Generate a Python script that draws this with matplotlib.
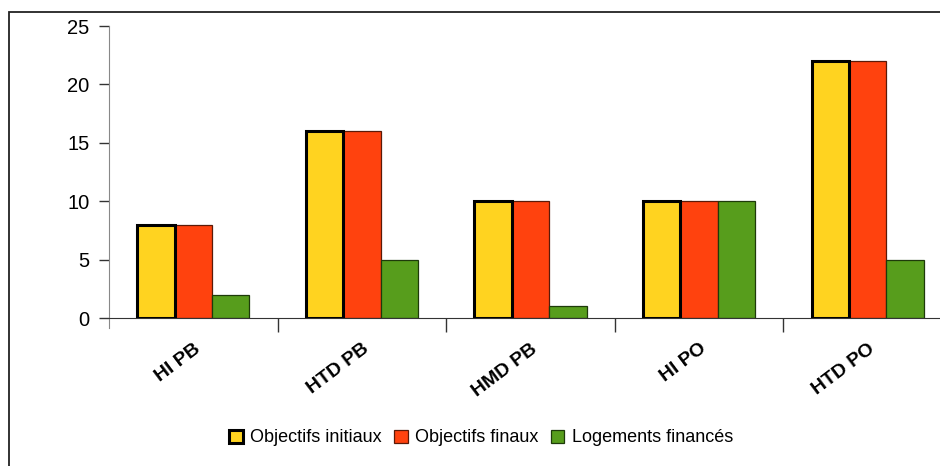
import numpy as np
import matplotlib
matplotlib.use("Agg")
import matplotlib.pyplot as plt
from matplotlib.patches import Rectangle

# data
categories = ["HI PB", "HTD PB", "HMD PB", "HI PO", "HTD PO"]
objectifs_initiaux = [8, 16, 10, 10, 22]
objectifs_finaux = [8, 16, 10, 10, 22]
logements_finances = [2, 5, 1, 10, 5]
series_names = ["Objectifs initiaux", "Objectifs finaux", "Logements financés"]

colors = ["#FFD320", "#FF420E", "#579D1C"]

plt.rcParams['font.family'] = ['Liberation Sans', 'DejaVu Sans']

fig = plt.figure(figsize=(9.4, 4.66), dpi=100)
# outer frame
fig.patches.append(Rectangle((9 / 940, -0.1), 1.2, 0.1 + 1 - 12.5 / 466,
                             transform=fig.transFigure, fill=False,
                             edgecolor="#222222", linewidth=1.3))

ax = fig.add_axes([109 / 940, 1 - 318 / 466, (952 - 109) / 940, (318 - 26) / 466])

x = np.arange(len(categories))
w = 0.222
ax.bar(x - w, objectifs_initiaux, w, color=colors[0], edgecolor="black",
       linewidth=2.2, label=series_names[0], zorder=3)
ax.bar(x, objectifs_finaux, w, color=colors[1], edgecolor="#5a1a08",
       linewidth=0.9, label=series_names[1], zorder=2)
ax.bar(x + w, logements_finances, w, color=colors[2], edgecolor="#1e3a0a",
       linewidth=0.9, label=series_names[2], zorder=2)

ax.set_xlim(-0.5, len(categories) - 0.5)
ax.set_ylim(0, 25)
ax.set_yticks([0, 5, 10, 15, 20, 25])

for s in ["top", "right"]:
    ax.spines[s].set_visible(False)
ax.spines["left"].set_color("#888888")
ax.spines["bottom"].set_color("#333333")
ax.spines["left"].set_bounds(-0.85, 25)
ax.tick_params(axis="y", length=7, width=1, color="#333333", labelsize=14.5, pad=7)

ax.set_xticks(x)
ax.set_xticks(np.arange(len(categories)) + 0.5, minor=True)
ax.tick_params(axis="x", which="major", length=0, pad=16)
ax.tick_params(axis="x", which="minor", length=10, width=1, color="#333333")
ax.set_xticklabels(categories, rotation=37, ha="right", va="top",
                   rotation_mode="anchor", fontweight="bold", fontsize=14)

fig.legend(loc="center", bbox_to_anchor=(481 / 940, 1 - 438 / 466), ncol=3,
           frameon=False, fontsize=13, handlelength=0.75, handleheight=0.75,
           handletextpad=0.4, columnspacing=0.7)

fig.savefig("out.png", dpi=100)
